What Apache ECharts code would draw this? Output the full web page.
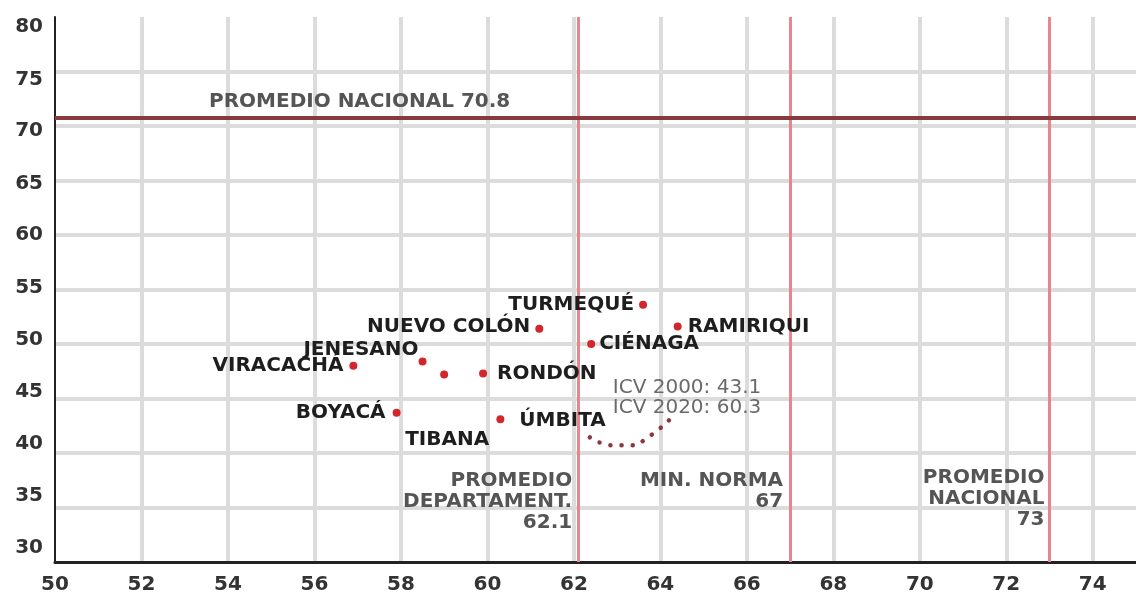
<!DOCTYPE html>
<html>
<head>
<meta charset="utf-8">
<script src="https://cdn.jsdelivr.net/npm/echarts@6/dist/echarts.min.js"></script>
<style>
html,body{margin:0;padding:0;background:#fff;}
#chart{width:1136px;height:597px;}
</style>
</head>
<body>
<div id="chart"></div>
<script>
// ---- data ----
const municipios = ['TURMEQUÉ','NUEVO COLÓN','RAMIRIQUI','CIÉNAGA','JENESANO','VIRACACHÁ','TIBANA','RONDÓN','BOYACÁ','ÚMBITA'];
const icv2020 = [63.6, 61.2, 64.4, 62.4, 58.5, 56.9, 59.0, 59.9, 57.9, 60.3];
const icv2000 = [53.6, 51.4, 51.6, 50.0, 48.4, 48.0, 47.2, 47.3, 43.7, 43.1];

const xTicks = {min: 50, max: 75, interval: 2};
const yTicks = {min: 30, max: 80, interval: 5};

const promedioDepartamental = 62.1;
const minNorma = 67;
const promedioNacionalX = 73;
const promedioNacionalY = 70.8;

// dotted connector near ÚMBITA note
const arcX = [62.37, 62.9, 63.3, 63.75, 64.2];
const arcY = [41.44, 40.7, 40.7, 41.55, 43.0];

// annotation texts and their anchor levels
const noteTexts = ['PROMEDIO NACIONAL 70.8', 'PROMEDIO\nDEPARTAMENT.\n62.1', 'MIN. NORMA\n67', 'PROMEDIO\nNACIONAL\n73', 'ICV 2000: 43.1\nICV 2020: 60.3'];
const noteX = [50, promedioDepartamental, minNorma, promedioNacionalX, 62.9];
const noteY = [promedioNacionalY, 35.5, 36.5, 35.8, 45.1];

// ---- styles ----
const FONT = '"DejaVu Sans", sans-serif';
const labelCfg = [
  {position:'left', distance:5},
  {position:'left', distance:5, offset:[0,-2]},
  {position:'right', distance:6},
  {position:'right', distance:4},
  {position:'left', distance:0, offset:[0,-12]},
  {position:'left', distance:6},
  {position:'bottom', distance:51, offset:[3,0]},
  {position:'right', distance:10},
  {position:'left', distance:7},
  {position:'right', distance:15, offset:[0,2]}
];
const noteCfg = [
  {position:'right', distance:0, offset:[154,-15], color:'#555', fontWeight:'bold'},
  {position:'left', distance:6, color:'#555', fontWeight:'bold', lineHeight:21},
  {position:'left', distance:7, color:'#555', fontWeight:'bold', lineHeight:21},
  {position:'left', distance:5, color:'#555', fontWeight:'bold', lineHeight:21},
  {position:'right', distance:0, color:'#6a6a6a', fontWeight:'normal', lineHeight:20}
];

// y tick labels in the print sit on a slightly compressed scale vs. the grid
const yRich = {};
for (let v = yTicks.min; v <= yTicks.max; v += yTicks.interval) {
  const shift = Math.round(10 - (80 - v) * 0.48);
  const pad = Math.abs(shift) * 2;
  yRich['v' + v] = {
    color: '#333', fontSize: 20, fontWeight: 'bold', fontFamily: FONT,
    padding: shift >= 0 ? [pad, 0, 0, 0] : [0, 0, pad, 0]
  };
}

const pointData = municipios.map((n, i) => ({
  name: n,
  value: [icv2020[i], icv2000[i]],
  label: Object.assign({show:true}, labelCfg[i])
}));
const noteData = noteTexts.map((t, i) => ({
  name: t,
  value: [noteX[i], noteY[i]],
  label: Object.assign({show:true}, noteCfg[i])
}));
const arcData = arcX.map((x, i) => [x, arcY[i]]);

const chart = echarts.init(document.getElementById('chart'), null, {renderer:'canvas'});
chart.setOption({
  animation: false,
  backgroundColor: '#fff',
  grid: {left: 55, right: 0, top: 17, bottom: 35, containLabel: false, outerBoundsMode: 'none'},
  xAxis: {
    type: 'value', min: xTicks.min, max: xTicks.max, interval: xTicks.interval,
    axisLine: {show: true, onZero: false, lineStyle: {color: '#222', width: 3}},
    axisTick: {show: false},
    axisLabel: {
      color: '#333', fontSize: 20, fontWeight: 'bold', fontFamily: FONT, margin: 13,
      showMaxLabel: false,
      formatter: v => (v === xTicks.max ? '' : String(v))
    },
    splitLine: {show: true, showMinLine: false, showMaxLine: false, lineStyle: {color: '#dcdcdc', width: 4}}
  },
  yAxis: {
    type: 'value', min: yTicks.min, max: yTicks.max, interval: yTicks.interval,
    axisLine: {show: true, onZero: false, lineStyle: {color: '#222', width: 2}},
    axisTick: {show: false},
    axisLabel: {
      margin: 12,
      formatter: v => '{v' + v + '|' + v + '}',
      rich: yRich
    },
    splitLine: {show: true, showMinLine: false, showMaxLine: false, lineStyle: {color: '#dcdcdc', width: 4}}
  },
  series: [
    {
      type: 'line',
      name: 'refs',
      data: [],
      silent: true,
      markLine: {
        silent: true,
        symbol: 'none',
        label: {show: false},
        data: [
          {xAxis: promedioDepartamental, lineStyle: {color: '#e5878c', width: 3, type: 'solid', opacity: 1}},
          {xAxis: minNorma, lineStyle: {color: '#e5878c', width: 3, type: 'solid', opacity: 1}},
          {xAxis: promedioNacionalX, lineStyle: {color: '#e5878c', width: 3, type: 'solid', opacity: 1}},
          {yAxis: promedioNacionalY, lineStyle: {color: '#8a3a3f', width: 4, type: 'solid', opacity: 1}}
        ]
      },
      z: 3
    },
    {
      type: 'line',
      name: 'arc',
      data: arcData,
      smooth: true,
      symbol: 'none',
      silent: true,
      lineStyle: {color: '#8a3a3f', width: 4.5, type: [0.1, 11], cap: 'round', opacity: 1},
      z: 4
    },
    {
      type: 'scatter',
      name: 'notes',
      data: noteData,
      symbolSize: 0,
      silent: true,
      itemStyle: {opacity: 1},
      label: {
        show: true, fontSize: 20, fontFamily: FONT,
        formatter: p => p.name
      },
      z: 5
    },
    {
      type: 'scatter',
      name: 'municipios',
      data: pointData,
      symbol: 'circle',
      symbolSize: 8,
      itemStyle: {color: '#d3262c', opacity: 1},
      label: {
        show: true, fontSize: 20, fontWeight: 'bold', fontFamily: FONT, color: '#1e1e1e',
        formatter: p => p.name
      },
      z: 6
    }
  ]
});
</script>
</body>
</html>
